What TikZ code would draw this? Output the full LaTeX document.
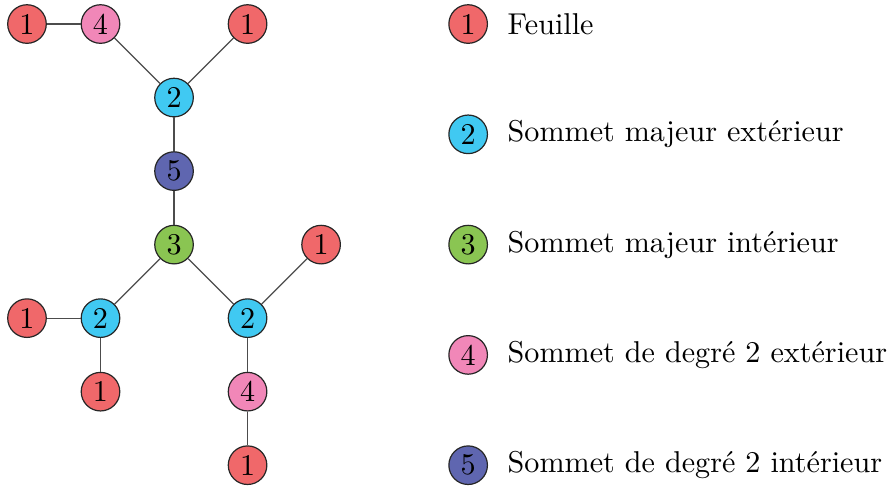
\documentclass[tikz,border=0pt]{standalone}
\usepackage{amssymb}
\usepackage{amsmath}
\usepackage{tikz}
\usetikzlibrary{%
	calc,%
	shapes
}

\definecolor{feuille}{RGB}{240,104,106}
\definecolor{majext}{RGB}{64,201,242}
\definecolor{majint}{RGB}{138,197,82}
\definecolor{degext}{RGB}{241,135,184}
\definecolor{degint}{RGB}{95,102,176}

\tikzset{
	sommet/.style={circle,draw=black!85,line width=0.4pt,minimum size=12.8pt,inner sep=0pt},
	arete/.style={draw=black!70,line width=0.4pt}
}

\begin{document}
\begin{tikzpicture}[x=24.4pt,y=-24.4pt]
		\useasboundingbox (-0.367,-0.327) rectangle (11.71,6.30);
		
		%Vertices
		\node[sommet,fill=feuille] (fA) at (0,0) {1};
		\node[sommet,fill=degext] (dA) at (1,0) {4};
		\node[sommet,fill=feuille] (fB) at (3,0) {1};
		\node[sommet,fill=majext] (mA) at (2,1) {2};
		\node[sommet,fill=degint] (dB) at (2,2) {5};
		\node[sommet,fill=majint] (mi) at (2,3) {3};
		\node[sommet,fill=feuille] (fC) at (4,3) {1};
		\node[sommet,fill=feuille] (fD) at (0,4) {1};
		\node[sommet,fill=majext] (mB) at (1,4) {2};
		\node[sommet,fill=majext] (mC) at (3,4) {2};
		\node[sommet,fill=feuille] (fE) at (1,5) {1};
		\node[sommet,fill=degext] (dC) at (3,5) {4};
		\node[sommet,fill=feuille] (fF) at (3,6) {1};
		
		% Edges
		\foreach \u/\v in {fA/dA,dA/mA,fB/mA,mA/dB,dB/mi,mi/mB,mi/mC,fC/mC,fD/mB,mB/fE,mC/dC,dC/fF}
		\draw[arete] (\u) -- (\v);
		
		% Legend
		\begin{scope}[every label/.style={label distance=3pt}]
		\node[sommet,fill=feuille,label=right:Feuille] (lf) at (6,0) {1};
		\node[sommet,fill=majext,label=right:Sommet majeur extérieur] (lme) at (6,1.5) {2};
		\node[sommet,fill=majint,label=right:Sommet majeur intérieur] (lmi) at (6,3) {3};
		\node[sommet,fill=degext,label=right:Sommet de degré 2 extérieur] (lde) at (6,4.5) {4};
		\node[sommet,fill=degint,label=right:Sommet de degré 2 intérieur] (ldi) at (6,6) {5};
		\end{scope}
	\end{tikzpicture}
\end{document}
